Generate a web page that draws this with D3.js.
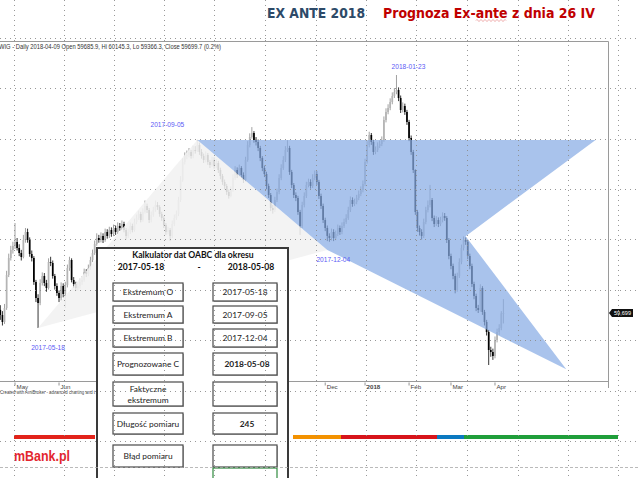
<!DOCTYPE html>
<html><head><meta charset="utf-8">
<script src="https://cdn.jsdelivr.net/npm/d3@7"></script>
<style>html,body{margin:0;padding:0;background:#fff;overflow:hidden}svg{display:block}</style>
</head><body>
<svg id="c" width="640" height="478"></svg>
<script>
// ---------------- DATA ----------------
const firstOpen = 59800;
const closes = [
59636,59412,59860,60916,61460,61716,61844,61972,61780,61620,
61492,62036,62292,62036,61588,61460,60692,60180,60020,60660,
60884,60660,60500,61332,61300,60884,60564,60340,60180,60564,
60308,60596,61140,61396,60756,60628,60500,60564,60692,60756,
61012,60948,61140,61396,61620,61908,62100,62036,62164,62036,
62292,62164,62356,62228,62420,62292,62484,62420,62548,62356,
62164,62292,62484,62356,62612,62740,62868,62676,62932,63124,
62996,62676,62836,62996,63156,63092,62868,62740,62516,62292,
62356,62164,62548,62740,62868,63316,63956,64532,64724,64756,
64852,64724,64916,64900,65076,64852,64724,64596,64756,64532,
64436,64596,64404,64500,64276,64084,63892,63764,63572,63444,
63636,64020,64276,64116,64340,64116,63956,64596,65076,65332,
65460,65236,65172,64980,64660,64340,64148,63764,63476,63060,
62996,63316,63572,64020,64340,64596,64916,64980,64212,63796,
63476,63380,62932,62484,63156,63444,63796,63892,63764,64020,
64148,63892,63444,63124,62676,62420,62164,62100,62292,62100,
62228,62420,62292,62484,62612,62740,62996,63316,63188,63252,
63380,63508,63636,63828,64532,65076,65396,65172,64852,64916,
65044,65108,65236,65876,66132,66260,66452,66644,66772,66836,
66580,66196,66324,66132,65812,65300,64852,64276,62932,62420,
62292,62164,62612,62996,63156,63316,62740,62548,62676,62548,
62676,62804,62740,62036,61524,61204,60884,60436,60884,61332,
61780,62036,61980,61524,61204,60628,60244,59860,59796,60500,
59732,59412,59092,58516,58452,58324,58836,59092,59220,59686,59700];
const highs = [
59950,59760,59990,61050,61600,61850,61980,62580,62100,61900,
61720,62200,62420,62400,62120,61700,61520,60760,60300,60780,
61000,60980,60760,61450,61500,61380,60950,60650,60420,60680,
60650,60700,61250,61500,61450,60850,60700,60680,60800,60880,
61120,61100,61250,61500,61730,62020,62250,62200,62280,62250,
62400,62380,62460,62440,62530,62500,62600,62580,62660,62620,
62420,62400,62600,62560,62720,62850,62980,62940,63050,63300,
63200,63060,62950,63100,63300,63250,63150,62940,62800,62580,
62460,62420,62660,62850,62980,63420,64080,64650,64840,64900,
64980,64920,65050,65040,65240,65150,64950,64800,64870,64820,
64600,64700,64680,64620,64570,64350,64150,63970,63830,63650,
63750,64140,64400,64360,64450,64400,64200,64700,65200,65450,
65650,65520,65330,65250,65050,64720,64420,64220,63840,63540,
63160,63420,63680,64140,64460,64720,65040,65230,65050,64280,
63860,63560,63450,63000,63260,63560,63900,64000,63980,64140,
64260,64240,63960,63520,63200,62750,62500,62250,62400,62380,
62340,62530,62500,62600,62720,62860,63100,63430,63400,63360,
63480,63620,63750,63940,64640,65200,65500,65460,65240,65030,
65160,65220,65350,65990,66250,66380,66570,66760,66900,67316,
66920,66660,66440,66400,66200,65880,65380,64920,64300,63000,
62500,62380,62720,63100,63300,63800,63380,62820,62800,62760,
62780,62920,62900,62800,62100,61600,61280,60960,60990,61450,
61890,62150,62120,62040,61600,61280,60700,60320,59960,60620,
60560,59800,59480,59160,58620,58560,58950,59200,59340,59760,60145];
const lows = [
59480,59300,59350,59800,60850,61380,61600,61750,61700,61520,
61380,61450,61950,61950,61500,61350,60600,60050,59220,59950,
60580,60560,60380,60450,61200,60800,60450,60250,60050,60100,
60200,59860,60520,61050,60680,60500,60400,60420,60480,60600,
60700,60850,60880,61080,61330,61560,61850,61950,61960,61940,
61980,62080,62100,62140,62160,62200,62230,62330,62350,62280,
62050,62100,62230,62280,62300,62540,62680,62600,62620,62880,
62900,62580,62600,62780,62940,63000,62780,62650,62420,62200,
62220,62000,62100,62480,62680,62800,63250,63900,64450,64620,
64680,64640,64650,64800,64850,64760,64640,64500,64520,64440,
64340,64380,64320,64330,64180,63980,63800,63660,63480,63360,
63400,63580,63960,64020,64060,64030,63860,63900,64540,65000,
65280,65150,65060,64880,64560,64240,64050,63660,63380,62960,
62880,62930,63250,63500,63950,64280,64530,64850,64120,63700,
63380,63280,62840,62200,62420,63080,63380,63720,63680,63700,
63950,63800,63350,63030,62580,62320,62000,61980,62020,62000,
62030,62160,62200,62220,62420,62550,62680,62930,63100,63120,
63180,63310,63440,63560,63760,64480,65000,65080,64760,64780,
64850,64980,65040,65180,65800,66060,66190,66380,66580,66700,
66480,66100,66120,66040,65720,65200,64760,64180,62840,62300,
62180,62050,62100,62540,62920,63080,62640,62450,62480,62450,
62480,62600,62650,61940,61420,61100,60780,60330,60380,60820,
61260,61700,61880,61420,61100,60530,60140,59760,59700,59740,
59640,59300,58980,58036,58300,58200,58250,58760,59000,59150,59366];

// visible month ticks (Jul-Nov are hidden behind the calculator panel in the reference)
const tickLabels = ["May","Jun","Dec","2018","Feb","Mar","Apr"];
const tickIndex  = [7,28,155,174,195,215,236];

// OABC pattern points (bar index incl. projected future bars, price)
const patternNames = ["O","A","B","C"];
const patternDates = ["2017-05-18","2017-09-05","2017-12-04","2018-05-08"];
const patternIndex = [18,94,156,270];
const patternPrice = [59220,65240,61720,57900];
// projection fan extra vertices
const fanIndex = [284,222];
const fanPrice = [65240,62160];

const chartLabels = ["2017-05-18","2017-09-05","2017-12-04","2018-01-23"];
const chartLabelIndex = [18,94,156,189];
const chartLabelPrice = [59220,65240,61720,67316];

const lastClose = 59699.7;
const headerText = "WIG - Daily 2018-04-09 Open 59685.9, Hi 60145.3, Lo 59366.3, Close 59699.7 (0.2%)";

const tableTitle = "Kalkulator dat OABC dla okresu";
const tableFrom = "2017-05-18", tableTo = "2018-05-08";
const rowLabels = ["Ekstremum O","Ekstremum A","Ekstremum B","Prognozowane C","Faktyczne|ekstremum","Długość pomiaru","Błąd pomiaru"];
const rowValues = ["2017-05-18","2017-09-05","2017-12-04","2018-05-08","","245",""];
const rowBold   = [false,false,false,true,false,true,false];

const stripeColors = ["#f39200","#d7141a","#0b79c0","#1f9e3a"];
const stripeEnds = [341,437,464,618];

// ---------------- DRAW ----------------
const svg = d3.select("#c");
const W = 640, H = 478;
const x = d3.scaleLinear().domain([0,240]).range([0.33, 0.33+240*2.096]);
const y = d3.scaleLinear().domain([58000,67000]).range([366.125, 84.875]);
const font = "'Liberation Sans', Arial, sans-serif";

svg.append("rect").attr("width",W).attr("height",H).attr("fill","#fff");

// chart frame
const frame = svg.append("g").attr("stroke","#9a9a9a").attr("stroke-width",1).attr("fill","none");
frame.append("line").attr("x1",0).attr("x2",608.5).attr("y1",41.5).attr("y2",41.5);
frame.append("line").attr("x1",608.5).attr("x2",608.5).attr("y1",41.5).attr("y2",388);
frame.append("line").attr("x1",0).attr("x2",608.5).attr("y1",381.5).attr("y2",381.5);

// header text
svg.append("text").attr("x",-1).attr("y",48.5).attr("font-family",font).attr("font-size",6.4)
  .attr("fill","#333").attr("textLength",222).attr("lengthAdjust","spacingAndGlyphs").text(headerText);

// candles
const bars = d3.range(closes.length).map(i => ({
  i, o: i===0 ? firstOpen : closes[i-1], c: closes[i], h: highs[i], l: lows[i]
}));
const cg = svg.append("g");
cg.selectAll("line.w").data(bars).join("line").attr("class","w")
  .attr("x1",d=>x(d.i)).attr("x2",d=>x(d.i)).attr("y1",d=>y(d.h)).attr("y2",d=>y(d.l))
  .attr("stroke",d=>d.c>=d.o?"#8a8a8a":"#000").attr("stroke-width",0.8);
cg.selectAll("rect.b").data(bars).join("rect").attr("class","b")
  .attr("x",d=>x(d.i)-0.85).attr("width",1.7)
  .attr("y",d=>y(Math.max(d.o,d.c)))
  .attr("height",d=>Math.max(1,Math.abs(y(d.o)-y(d.c))))
  .attr("fill",d=>d.c>=d.o?"#b4b4b4":"#000");

// OAB gray triangle
const pt = k => [x(patternIndex[k]), y(patternPrice[k])];
svg.append("path").attr("d","M"+[pt(0),pt(1),pt(2)].map(p=>p.join(",")).join("L")+"Z")
  .attr("fill","rgb(241,241,241)").attr("fill-opacity",0.88);
// blue fan A-R-N-C-B
const fanPts = [pt(1),[x(fanIndex[0]),y(fanPrice[0])],[x(fanIndex[1]),y(fanPrice[1])],pt(3),pt(2)];
svg.append("path").attr("d","M"+fanPts.map(p=>p.join(",")).join("L")+"Z")
  .attr("fill","rgb(136,172,228)").attr("fill-opacity",0.72);

// date labels
const labOff = [[10,22],[-30,-13],[6,12],[12,-6]];
svg.selectAll("text.pl").data(chartLabels).join("text").attr("class","pl")
  .attr("x",(d,k)=>x(chartLabelIndex[k])+labOff[k][0])
  .attr("y",(d,k)=>y(chartLabelPrice[k])+labOff[k][1])
  .attr("text-anchor","middle").attr("font-family",font).attr("font-size",6.6)
  .attr("fill","#5a5af5").text(d=>d);

// last price marker
const ly = y(lastClose);
svg.append("path").attr("d",`M609,${ly}L612,${ly-4}L633,${ly-4}L633,${ly+4}L612,${ly+4}Z`).attr("fill","#111");
svg.append("text").attr("x",622.5).attr("y",ly+2.2).attr("text-anchor","middle").attr("font-family",font)
  .attr("font-size",5.6).attr("fill","#fff").text(d3.format(",")(Math.floor(lastClose)));

// x axis ticks
const ax = svg.append("g");
tickIndex.forEach((ti,k)=>{
  const tx = x(ti);
  ax.append("line").attr("x1",tx).attr("x2",tx).attr("y1",382.5).attr("y2",385.5).attr("stroke","#666").attr("stroke-width",0.7);
  ax.append("text").attr("x",tx+1.5).attr("y",388.5).attr("font-family",font).attr("font-size",6.2)
    .attr("font-weight",tickLabels[k]==="2018"?"bold":"normal").attr("fill","#444").text(tickLabels[k]);
});
svg.append("text").attr("x",0).attr("y",393.5).attr("font-family",font).attr("font-size",5.2).attr("fill","#444")
  .attr("textLength",95).attr("lengthAdjust","spacingAndGlyphs").text("Created with AmiBroker - advanced charting and t");

// titles
svg.append("text").attr("x",267).attr("y",18).attr("font-family","'DejaVu Sans', Verdana, sans-serif")
  .attr("font-weight","bold").attr("font-size",13.5).attr("fill","#2d4a68")
  .attr("textLength",98).attr("lengthAdjust","spacingAndGlyphs").text("EX ANTE 2018");
svg.append("text").attr("x",383).attr("y",18).attr("font-family","'DejaVu Sans', Verdana, sans-serif")
  .attr("font-weight","bold").attr("font-size",13.5).attr("fill","#c00000")
  .attr("textLength",212).attr("lengthAdjust","spacingAndGlyphs").text("Prognoza Ex-ante z dnia 26 IV");
// spell-check squiggle under "ante"
let sq = "M476,20.5";
for (let sx=476; sx<506; sx+=2) sq += `L${sx+1},${(sx/2)%2===0?19.5:21.5}L${sx+2},20.5`;
svg.append("path").attr("d",sq).attr("fill","none").attr("stroke","#e06868").attr("stroke-width",0.6);

// bottom stripes
svg.append("rect").attr("x",14).attr("y",435).attr("width",81).attr("height",4).attr("fill","#e2231a");
let sx0 = 293;
stripeColors.forEach((col,k)=>{
  svg.append("rect").attr("x",sx0).attr("y",435).attr("width",stripeEnds[k]-sx0).attr("height",4).attr("fill",col);
  sx0 = stripeEnds[k];
});
svg.append("text").attr("x",14).attr("y",461).attr("font-family",font).attr("font-weight","bold")
  .attr("font-size",14).attr("fill","#e3262e").attr("textLength",56).attr("lengthAdjust","spacingAndGlyphs").text("mBank.pl");

// table
const tfont = "Lato, 'Liberation Sans', sans-serif";
const tb = svg.append("g");
tb.append("rect").attr("x",97).attr("y",248).attr("width",191).attr("height",240)
  .attr("fill","#fff").attr("stroke","#3a3a3a").attr("stroke-width",2);
tb.append("text").attr("x",193).attr("y",258).attr("text-anchor","middle").attr("font-family",tfont)
  .attr("font-weight","bold").attr("font-size",8.6).attr("fill","#111").text(tableTitle);
tb.append("text").attr("x",141).attr("y",270).attr("text-anchor","middle").attr("font-family",tfont)
  .attr("font-weight","bold").attr("font-size",8.6).attr("fill","#111").text(tableFrom);
tb.append("text").attr("x",199).attr("y",270).attr("text-anchor","middle").attr("font-family",tfont)
  .attr("font-weight","bold").attr("font-size",8.6).attr("fill","#111").text("-");
tb.append("text").attr("x",251).attr("y",270).attr("text-anchor","middle").attr("font-family",tfont)
  .attr("font-weight","bold").attr("font-size",8.6).attr("fill","#111").text(tableTo);
const rowTop = [283,306,329,353,382,413,445];
const rowH   = [18,17,18,22,24,21,22];
function box(bx,by,bw,bh,stroke){
  tb.append("rect").attr("x",bx+1).attr("y",by+1).attr("width",bw).attr("height",bh).attr("fill","#b0b0b0");
  tb.append("rect").attr("x",bx).attr("y",by).attr("width",bw).attr("height",bh)
    .attr("fill","#fff").attr("stroke",stroke||"#4a4a4a").attr("stroke-width",1.2);
}
rowLabels.forEach((lab,k)=>{
  box(113,rowTop[k],70,rowH[k]);
  box(213,rowTop[k],64,rowH[k]);
  const parts = lab.split("|");
  const cy = rowTop[k]+rowH[k]/2;
  parts.forEach((p,j)=>{
    tb.append("text").attr("x",148).attr("y",cy+3+(j-(parts.length-1)/2)*11).attr("text-anchor","middle")
      .attr("font-family",tfont).attr("font-size",8.4).attr("fill","#222").text(p);
  });
  tb.append("text").attr("x",rowBold[k]?247:245).attr("y",cy+3).attr("text-anchor","middle")
    .attr("font-family",tfont).attr("font-size",8.4).attr("font-weight",rowBold[k]?"bold":"normal")
    .attr("fill","#222").text(rowValues[k]);
});
tb.append("rect").attr("x",213).attr("y",468).attr("width",64).attr("height",20)
  .attr("fill","#fff").attr("stroke","#2f8a3e").attr("stroke-width",1.2);

// sheet grid (dotted)
const grid = svg.append("g").attr("stroke","#8c8c8c").attr("stroke-width",0.9).attr("stroke-dasharray","1,4");
const gx = [14,64,114,164,214,265,316,366,416,467,518,568,618];
const gy = [38,88,139,189,239,290,340,391,441];
gx.forEach(v=>grid.append("line").attr("x1",v+0.5).attr("x2",v+0.5).attr("y1",0).attr("y2",H));
gy.forEach(v=>grid.append("line").attr("x1",0).attr("x2",W).attr("y1",v+0.5).attr("y2",v+0.5));
svg.append("line").attr("x1",0).attr("x2",W).attr("y1",467.5).attr("y2",467.5)
  .attr("stroke","#a8a8a8").attr("stroke-width",0.8).attr("stroke-dasharray","3,2");
</script>
</body></html>
